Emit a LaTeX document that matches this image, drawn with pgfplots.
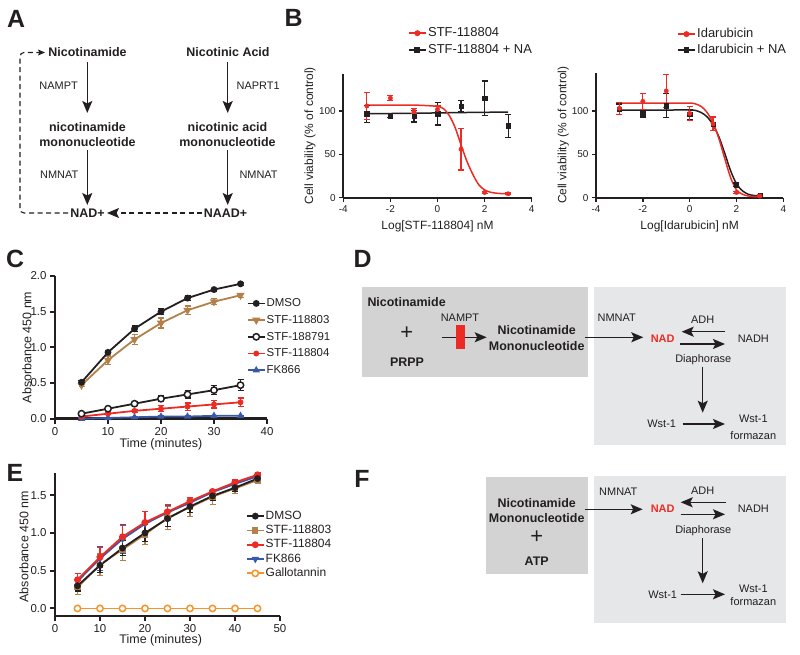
\documentclass[border=0pt]{standalone}
\usepackage{fontspec}
\setmainfont{Liberation Sans}
\usepackage{pgfplots}
\pgfplotsset{compat=1.18}
\usetikzlibrary{arrows.meta}
\definecolor{myred}{RGB}{236,44,36}
\definecolor{mybrown}{RGB}{178,128,72}
\definecolor{myblue}{RGB}{58,88,168}
\definecolor{myorange}{RGB}{246,148,40}
\definecolor{dkbox}{RGB}{211,211,212}
\definecolor{ltbox}{RGB}{230,231,232}
\definecolor{ink}{RGB}{35,31,32}
\pgfplotsset{
  gp/.style={scale only axis, anchor=south west, axis lines=left,
    axis line style={-, line width=1.8bp, ink}, tick align=outside,
    major tick length=4bp, tick style={line width=1.5bp, ink},
    /pgf/number format/assume math mode=true,
    tick label style={text=ink}, clip=false,
    legend cell align=left},
  eb/.style={error bars/.cd, y dir=both, y explicit,
    error bar style={line width=1.2bp},
    error mark options={rotate=90, mark size=3bp, line width=1.2bp}},
}
\begin{document}
\begin{tikzpicture}[x=1bp,y=1bp]
\useasboundingbox (0,0) rectangle (800,655);
\tikzset{
  dg/.style={inner sep=0pt, text height=7.9bp, text depth=0pt, text=ink, font=\fontsize{11}{13}\selectfont},
  dgb/.style={inner sep=0pt, text height=9bp, text depth=0pt, text=ink, font=\fontsize{12.5}{15}\selectfont\bfseries},
  arr/.style={line width=1.4bp, ink, -{Stealth[length=12bp,width=10bp,inset=2.5bp]}},
  lbl/.style={font=\fontsize{25}{30}\selectfont\bfseries, text=ink, inner sep=0pt}}

% panel letters
\node[lbl] at (16,636.5) {A};
\node[lbl] at (293.5,637.5) {B};
\node[lbl] at (15,396) {C};
\node[lbl] at (362.5,396) {D};
\node[lbl] at (15,182.5) {E};
\node[lbl] at (362,176) {F};

% ---------------- Panel A ----------------
\node[dgb] at (87.5,603) {Nicotinamide};
\node[dgb] at (228,603) {Nicotinic Acid};
\node[dg, anchor=west] at (39.3,569) {NAMPT};
\node[dg, anchor=west] at (236.5,569) {NAPRT1};
\node[dgb] at (87.5,528) {nicotinamide};
\node[dgb] at (87.5,513) {mononucleotide};
\node[dgb] at (227.5,528) {nicotinic acid};
\node[dgb] at (227.5,513) {mononucleotide};
\node[dg, anchor=west] at (40,480) {NMNAT};
\node[dg, anchor=west] at (239.3,480) {NMNAT};
\node[dgb] at (87.5,442) {NAD+};
\node[dgb] at (225.5,442) {NAAD+};
\draw[arr] (87.3,593) -- (87.3,542);
\draw[arr] (87.3,505) -- (87.3,450);
\draw[arr] (227.7,593) -- (227.7,542);
\draw[arr] (227.7,505) -- (227.7,450);
\draw[line width=1.1bp, ink, dash pattern=on 5bp off 3.5bp, rounded corners=4bp, -{Stealth[length=7bp,width=6bp,inset=1.5bp]}]
  (68,442) -- (20,442) -- (20,602.5) -- (45,602.5);
\draw[line width=1.1bp, ink, dash pattern=on 5bp off 3.5bp, -{Stealth[length=12bp,width=10bp,inset=2.5bp]}]
  (202,442) -- (107,442);

% ---------------- Panel D ----------------
\fill[dkbox] (361.7,278.3) rectangle (588.3,367.7);
\fill[ltbox] (594.3,210) rectangle (786,367.7);
\node[dgb, anchor=west] at (367.3,353.3) {Nicotinamide};
\node[text=ink, inner sep=0pt, font=\fontsize{22}{24}\selectfont] at (406.7,322) {+};
\node[dgb] at (407,293.3) {PRPP};
\node[dg] at (460,337.7) {NAMPT};
\draw[arr] (441.7,317.7) -- (486.7,317.7);
\fill[myred] (456,306) rectangle (465,330);
\node[dgb] at (536.7,325) {Nicotinamide};
\node[dgb] at (536.7,309.3) {Mononucleotide};
\draw[arr] (585,317.7) -- (643.3,317.7);
\node[dg] at (616.7,337.7) {NMNAT};
\node[dg, text=myred, font=\fontsize{11}{13}\selectfont\bfseries] at (662.7,316) {NAD};
\node[dg] at (702.7,335) {ADH};
\draw[arr] (725,323.3) -- (681.7,323.3);
\draw[arr] (680,311) -- (725,311);
\node[dg] at (753.3,316) {NADH};
\node[dg] at (703.3,296.7) {Diaphorase};
\draw[arr] (702.7,288.3) -- (702.7,242.3);
\node[dg] at (661.7,231) {Wst-1};
\draw[arr] (682.7,231) -- (725,231);
\node[dg] at (753.3,236.7) {Wst-1};
\node[dg] at (753.3,219) {formazan};

% ---------------- Panel F ----------------
\fill[dkbox] (486,80.7) rectangle (588.3,178.3);
\fill[ltbox] (594.3,31.7) rectangle (786,179.3);
\node[dgb] at (536.7,151.7) {Nicotinamide};
\node[dgb] at (536.7,136.7) {Mononucleotide};
\node[text=ink, inner sep=0pt, font=\fontsize{22}{24}\selectfont] at (536.7,117.7) {+};
\node[dgb] at (536.7,94) {ATP};
\node[dg] at (618.3,163.3) {NMNAT};
\draw[arr] (585,145.7) -- (642.7,145.7);
\node[dg] at (702.7,164.3) {ADH};
\draw[arr] (726,152.7) -- (680.7,152.7);
\node[dg, text=myred, font=\fontsize{11}{13}\selectfont\bfseries] at (662.7,146) {NAD};
\draw[arr] (680.7,140.7) -- (725,140.7);
\node[dg] at (753.3,146) {NADH};
\node[dg] at (703.3,125.7) {Diaphorase};
\draw[arr] (702.7,116.7) -- (702.7,71.7);
\node[dg] at (662.7,60.7) {Wst-1};
\draw[arr] (680.7,60.7) -- (725,60.7);
\node[dg] at (753.3,66.7) {Wst-1};
\node[dg] at (753.3,53.3) {formazan};

% ---------------- Panel B left ----------------
\begin{axis}[gp, at={(343.3bp,457.3bp)}, width=188.4bp, height=123.7bp,
  xmin=-4, xmax=4, ymin=0, ymax=143, xtick={-4,-2,0,2,4}, ytick={0,50,100},
  tick label style={font=\fontsize{10}{12}\selectfont},
  xlabel={Log[STF-118804] nM}, ylabel={Cell viability (\% of control)},
  every axis x label/.style={at={(axis description cs:0.5,-0.229)}, anchor=center, font=\fontsize{12}{14}\selectfont, text=ink},
  every axis y label/.style={at={(axis description cs:-0.177,0.5)}, rotate=90, anchor=center, font=\fontsize{12}{14}\selectfont, text=ink},
  legend style={at={(axis description cs:0.343,1.392)}, anchor=north west, draw=none, fill=none,
    inner sep=0pt, font=\fontsize{13}{15}\selectfont, row sep=2bp,
    nodes={inner sep=1.5bp, text height=9.5bp, text depth=2.5bp, text=ink},
    /tikz/every even column/.append style={column sep=2bp}}]
\addlegendimage{myred, line width=1.5bp, mark=*, mark size=2.2bp}
\addlegendentry{STF-118804}
\addlegendimage{ink, line width=1.5bp, mark=square*, mark size=2.2bp}
\addlegendentry{STF-118804 + NA}
\addplot[ink, line width=1.5bp, smooth, forget plot] coordinates {(-3,97) (-2,97.3) (-1,97.6) (0,98) (1,98.4) (2,98.7) (3,99)};
\addplot[myred, line width=1.5bp, smooth, forget plot] coordinates {(-3,107) (-2,107) (-1,107) (-0.5,106.5) (0,105.5) (0.25,103) (0.5,95) (0.75,81) (1,61) (1.25,42) (1.5,27) (1.75,15) (2,9) (2.25,6.3) (2.5,5.2) (2.75,4.7) (3,4.5)};
\addplot[ink, only marks, mark=square*, mark size=2.2bp, forget plot, eb] coordinates {(-3,97) +- (0,10) (-2,95) +- (0,2) (-1,94) +- (0,6.5) (0,97) +- (0,13) (1,106) +- (0,6) (2,115) +- (0,20) (3,83) +- (0,13)};
\addplot[myred, only marks, mark=*, mark size=2.2bp, forget plot, eb] coordinates {(-3,106) +- (0,16) (-2,115) +- (0,3) (-1,100) +- (0,3) (0,102) +- (0,4) (1,56) +- (0,24) (2,6) +- (0,1) (3,4.5) +- (0,1)};
\end{axis}

% ---------------- Panel B right ----------------
\begin{axis}[gp, at={(596bp,457.3bp)}, width=187.3bp, height=125bp,
  xmin=-4, xmax=4, ymin=0, ymax=144, xtick={-4,-2,0,2,4}, ytick={0,50,100},
  tick label style={font=\fontsize{10}{12}\selectfont},
  xlabel={Log[Idarubicin] nM}, ylabel={Cell viability (\% of control)},
  every axis x label/.style={at={(axis description cs:0.5,-0.229)}, anchor=center, font=\fontsize{12}{14}\selectfont, text=ink},
  every axis y label/.style={at={(axis description cs:-0.175,0.5)}, rotate=90, anchor=center, font=\fontsize{12}{14}\selectfont, text=ink},
  legend style={at={(axis description cs:0.4325,1.37)}, anchor=north west, draw=none, fill=none,
    inner sep=0pt, font=\fontsize{13}{15}\selectfont, row sep=1bp,
    nodes={inner sep=1.5bp, text height=9.5bp, text depth=2.5bp, text=ink},
    /tikz/every even column/.append style={column sep=2bp}}]
\addlegendimage{myred, line width=1.5bp, mark=*, mark size=2.2bp}
\addlegendentry{Idarubicin}
\addlegendimage{ink, line width=1.5bp, mark=square*, mark size=2.2bp}
\addlegendentry{Idarubicin + NA}
\addplot[ink, line width=1.5bp, smooth, forget plot] coordinates {(-3,101) (-2,101) (-1,101) (0,101) (0.25,100.5) (0.5,98) (0.75,93) (1,84) (1.25,70) (1.5,51) (1.75,31) (2,16) (2.25,8) (2.5,4) (2.75,2.5) (3,2)};
\addplot[myred, line width=1.5bp, smooth, forget plot] coordinates {(-3,109) (-2,109) (-1,109) (0,109) (0.25,108) (0.5,105) (0.75,98) (1,86) (1.25,68) (1.5,45) (1.75,23) (2,9) (2.25,4) (2.5,2) (2.75,1.3) (3,1)};
\addplot[ink, only marks, mark=square*, mark size=2.2bp, forget plot, eb] coordinates {(-3,102) +- (0,6) (-2,97) +- (0,4) (-1,106) +- (0,14) (0,96) +- (0,6) (1,85) +- (0,8) (2,15) +- (0,2) (3,3) +- (0,1)};
\addplot[myred, only marks, mark=*, mark size=2.2bp, forget plot, eb] coordinates {(-3,103) +- (0,7) (-2,111) +- (0,9) (-1,123) +- (0,19) (0,97) +- (0,8) (1,85) +- (0,8) (2,6) +- (0,1) (3,2) +- (0,1)};
\end{axis}

% ---------------- Panel C ----------------
\begin{axis}[gp, at={(55bp,236.3bp)}, width=212bp, height=142.7bp,
  axis line style={line width=2.4bp}, tick style={line width=2bp}, major tick length=5bp,
  xmin=0, xmax=40, ymin=0, ymax=2, xtick={0,10,20,30,40}, ytick={0,0.5,1,1.5,2},
  yticklabel style={/pgf/number format/.cd, fixed, fixed zerofill, precision=1},
  tick label style={font=\fontsize{11.5}{13}\selectfont},
  xlabel={Time (minutes)}, ylabel={Absorbance 450 nm},
  every axis x label/.style={at={(axis description cs:0.5,-0.177)}, anchor=center, font=\fontsize{12.5}{15}\selectfont, text=ink},
  every axis y label/.style={at={(axis description cs:-0.132,0.5)}, rotate=90, anchor=center, font=\fontsize{12.5}{15}\selectfont, text=ink},
  legend style={at={(axis description cs:0.904,0.853)}, anchor=north west, draw=none, fill=none,
    inner sep=0pt, font=\fontsize{11.5}{13}\selectfont, row sep=4.2bp,
    nodes={inner sep=1bp, text height=8.5bp, text depth=2bp, text=ink},
    /tikz/every even column/.append style={column sep=2.5bp}}]
\addlegendimage{ink, line width=1.8bp, mark=*, mark size=2.5bp}
\addlegendentry{DMSO}
\addlegendimage{mybrown, line width=1.8bp, mark=triangle*, mark size=3bp, mark options={rotate=180}}
\addlegendentry{STF-118803}
\addlegendimage{ink, line width=1.8bp, mark=*, mark size=3.2bp, mark options={fill=white, line width=1.5bp}}
\addlegendentry{STF-188791}
\addlegendimage{myred, line width=1.8bp, mark=*, mark size=2bp}
\addlegendentry{STF-118804}
\addlegendimage{myblue, line width=1.8bp, mark=triangle*, mark size=2.5bp}
\addlegendentry{FK866}
\addplot[myblue, line width=1.8bp, mark=triangle*, mark size=2.5bp, forget plot, eb] coordinates {(5,0.00) +- (0,0.01) (10,0.01) +- (0,0.01) (15,0.02) +- (0,0.01) (20,0.03) +- (0,0.01) (25,0.03) +- (0,0.01) (30,0.04) +- (0,0.01) (35,0.04) +- (0,0.01)};
\addplot[myred, line width=1.8bp, mark=*, mark size=2bp, forget plot, eb] coordinates {(5,0.03) +- (0,0.01) (10,0.07) +- (0,0.01) (15,0.11) +- (0,0.02) (20,0.14) +- (0,0.04) (25,0.17) +- (0,0.05) (30,0.20) +- (0,0.05) (35,0.23) +- (0,0.06)};
\addplot[ink, line width=1.8bp, mark=*, mark size=3.2bp, mark options={fill=white, line width=1.5bp}, forget plot, eb] coordinates {(5,0.07) +- (0,0.02) (10,0.14) +- (0,0.02) (15,0.21) +- (0,0.03) (20,0.28) +- (0,0.04) (25,0.34) +- (0,0.05) (30,0.40) +- (0,0.06) (35,0.47) +- (0,0.08)};
\addplot[mybrown, line width=1.8bp, mark=triangle*, mark size=3bp, mark options={rotate=180}, forget plot, eb] coordinates {(5,0.47) +- (0,0.02) (10,0.82) +- (0,0.06) (15,1.11) +- (0,0.07) (20,1.34) +- (0,0.07) (25,1.52) +- (0,0.06) (30,1.64) +- (0,0.04) (35,1.73) +- (0,0.03)};
\addplot[ink, line width=1.8bp, mark=*, mark size=2.5bp, forget plot, eb] coordinates {(5,0.51) +- (0,0.02) (10,0.93) +- (0,0.02) (15,1.26) +- (0,0.04) (20,1.50) +- (0,0.04) (25,1.69) +- (0,0.03) (30,1.81) +- (0,0.02) (35,1.89) +- (0,0.02)};
\end{axis}

% ---------------- Panel E ----------------
\begin{axis}[gp, at={(55bp,39bp)}, width=225bp, height=142.7bp,
  axis line style={line width=2.4bp}, tick style={line width=2bp}, major tick length=5bp,
  xmin=0, xmax=50, ymin=-0.1, ymax=1.79, xtick={0,10,20,30,40,50}, ytick={0,0.5,1,1.5},
  yticklabel style={/pgf/number format/.cd, fixed, fixed zerofill, precision=1},
  tick label style={font=\fontsize{11.5}{13}\selectfont},
  xlabel={Time (minutes)}, ylabel={Absorbance 450 nm},
  every axis x label/.style={at={(axis description cs:0.47,-0.173)}, anchor=center, font=\fontsize{12.5}{15}\selectfont, text=ink},
  every axis y label/.style={at={(axis description cs:-0.138,0.486)}, rotate=90, anchor=center, font=\fontsize{12.5}{15}\selectfont, text=ink},
  legend style={at={(axis description cs:0.8476,0.745)}, anchor=north west, draw=none, fill=none,
    inner sep=0pt, font=\fontsize{12}{14}\selectfont, row sep=1.8bp,
    nodes={inner sep=1bp, text height=8.5bp, text depth=2bp, text=ink},
    /tikz/every even column/.append style={column sep=2.5bp}}]
\addlegendimage{ink, line width=1.8bp, mark=*, mark size=2.5bp}
\addlegendentry{DMSO}
\addlegendimage{mybrown, line width=1.8bp, mark=square*, mark size=2.2bp}
\addlegendentry{STF-118803}
\addlegendimage{myred, line width=1.8bp, mark=*, mark size=2.5bp}
\addlegendentry{STF-118804}
\addlegendimage{myblue, line width=1.8bp, mark=triangle*, mark size=2.5bp, mark options={rotate=180}}
\addlegendentry{FK866}
\addlegendimage{myorange, line width=1.8bp, mark=*, mark size=3.2bp, mark options={fill=white, line width=1.5bp}}
\addlegendentry{Gallotannin}
\addplot[myorange, line width=1.8bp, mark=*, mark size=3.2bp, mark options={fill=white, line width=1.5bp}, forget plot] coordinates {(5,0) (10,0) (15,0) (20,0) (25,0) (30,0) (35,0) (40,0) (45,0)};
\addplot[myblue, line width=1.8bp, mark=triangle*, mark size=2.5bp, mark options={rotate=180}, forget plot, eb] coordinates {(5,0.36) +- (0,0.10) (10,0.66) +- (0,0.16) (15,0.92) +- (0,0.19) (20,1.12) +- (0,0.16) (25,1.27) +- (0,0.10) (30,1.40) +- (0,0.06) (35,1.54) +- (0,0.03) (40,1.65) +- (0,0.04) (45,1.75) +- (0,0.03)};
\addplot[mybrown, line width=1.8bp, mark=square*, mark size=2.2bp, forget plot, eb] coordinates {(5,0.28) +- (0,0.10) (10,0.58) +- (0,0.14) (15,0.78) +- (0,0.14) (20,0.98) +- (0,0.13) (25,1.20) +- (0,0.15) (30,1.34) +- (0,0.12) (35,1.48) +- (0,0.10) (40,1.59) +- (0,0.07) (45,1.70) +- (0,0.05)};
\addplot[myred, line width=1.8bp, mark=*, mark size=2.5bp, forget plot, eb] coordinates {(5,0.38) +- (0,0.08) (10,0.68) +- (0,0.13) (15,0.95) +- (0,0.15) (20,1.14) +- (0,0.14) (25,1.28) +- (0,0.10) (30,1.42) +- (0,0.05) (35,1.55) +- (0,0.03) (40,1.67) +- (0,0.04) (45,1.77) +- (0,0.03)};
\addplot[ink, line width=1.8bp, mark=*, mark size=2.5bp, forget plot, eb] coordinates {(5,0.30) +- (0,0.07) (10,0.57) +- (0,0.09) (15,0.80) +- (0,0.10) (20,1.00) +- (0,0.11) (25,1.19) +- (0,0.10) (30,1.35) +- (0,0.08) (35,1.49) +- (0,0.06) (40,1.60) +- (0,0.05) (45,1.72) +- (0,0.04)};
\end{axis}
\end{tikzpicture}
\end{document}
